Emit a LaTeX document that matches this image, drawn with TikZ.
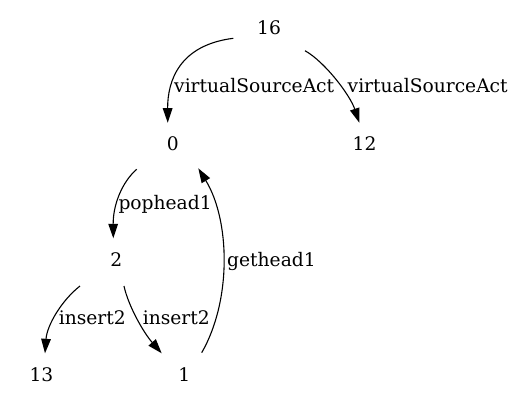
\documentclass[tikz,border=0pt]{standalone}
\usepackage{fontspec}
\setmainfont{DejaVu Serif}
\usetikzlibrary{arrows.meta,calc}
\begin{document}
\begin{tikzpicture}[x=1pt,y=-1pt,
  state/.style={inner sep=0pt,anchor=base,font=\fontsize{18.67}{22}\selectfont},
  lbl/.style={inner sep=0pt,anchor=base west,font=\fontsize{18.67}{22}\selectfont},
  edge/.style={draw=black,line width=1.1pt,-{Triangle[length=14.5pt,width=9.6pt]}}]
\useasboundingbox (0,0) rectangle (513,407);
\node[state] (n16) at (269,34.3) {16};
\node[state] (n0) at (172.7,150) {0};
\node[state] (n12) at (364.5,150) {12};
\node[state] (n2) at (116.3,266) {2};
\node[state] (n13) at (41.5,381.7) {13};
\node[state] (n1) at (184.3,381.7) {1};
\draw[edge] ($(n16.base)+(-35.7,4)$) .. controls (180,45) and (167.5,80) .. ($(n0.base)+(-5,-27.3)$);
\draw[edge] ($(n16.base)+(36,16.4)$) .. controls (325,62) and (350,95) .. ($(n12.base)+(-5.2,-27.3)$);
\draw[edge] ($(n0.base)+(-36,19.3)$) .. controls (122,182) and (113,205) .. ($(n2.base)+(-3,-27.7)$);
\draw[edge] ($(n2.base)+(-36.3,20)$) .. controls (62,300) and (47,325) .. ($(n13.base)+(3.5,-28.4)$);
\draw[edge] ($(n2.base)+(7.7,20)$) .. controls (128,305) and (143,332) .. ($(n1.base)+(-22.6,-28.4)$);
\draw[edge] ($(n1.base)+(17.4,-29)$) .. controls (232,300) and (230,220) .. ($(n0.base)+(25.6,18.3)$);
\node[lbl] (l1) at (174,92.7) {virtualSourceAct};
\node[lbl] (l2) at (347.5,92.7) {virtualSourceAct};
\node[lbl] (l3) at (118.3,209.3) {pophead1};
\node[lbl] (l4) at (227,266) {gethead1};
\node[lbl] (l5) at (58.6,324.3) {insert2};
\node[lbl] (l6) at (142.6,324.3) {insert2};
\end{tikzpicture}
\end{document}
